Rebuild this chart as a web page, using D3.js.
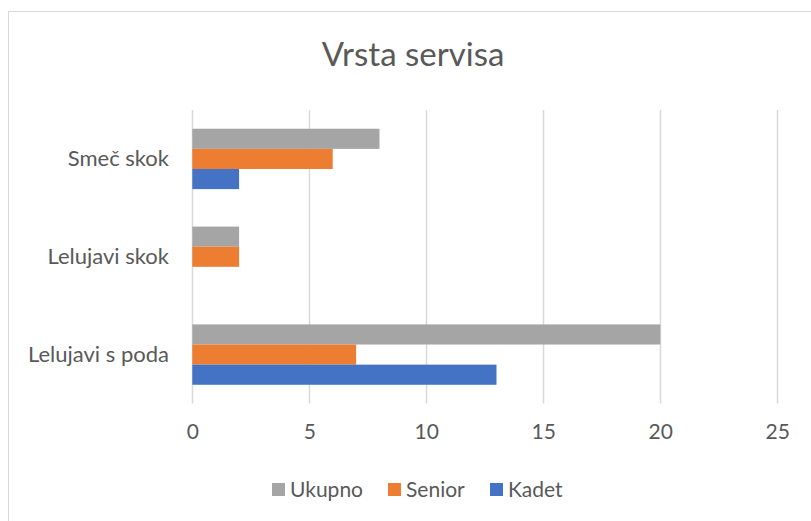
<!DOCTYPE html>
<html>
<head>
<meta charset="utf-8">
<script src="https://cdn.jsdelivr.net/npm/d3@7"></script>
<style>
  body { margin: 0; background: #fff; }
  text { font-family: Lato, "Open Sans", sans-serif; fill: #595959; }
</style>
</head>
<body>
<div id="chart"></div>
<script>
// data
var categories = ["Smeč skok", "Lelujavi skok", "Lelujavi s poda"];
var seriesNames = ["Ukupno", "Senior", "Kadet"];
var ukupno = [8, 2, 20];
var senior = [6, 2, 7];
var kadet = [2, 0, 13];
var ticks = [0, 5, 10, 15, 20, 25];

var colors = { "Ukupno": "#A5A5A5", "Senior": "#ED7D31", "Kadet": "#4472C4" };
var values = { "Ukupno": ukupno, "Senior": senior, "Kadet": kadet };

var width = 811, height = 521;

var svg = d3.select("#chart").append("svg")
    .attr("width", width)
    .attr("height", height);

// chart border
svg.append("rect")
    .attr("x", 8.5).attr("y", 11.5)
    .attr("width", 812).attr("height", 516)
    .attr("fill", "none")
    .attr("stroke", "#D9D9D9");

// title
svg.append("text")
    .attr("x", 413).attr("y", 66)
    .attr("text-anchor", "middle")
    .style("font-size", "33px")
    .text("Vrsta servisa");

// scales
var x = d3.scaleLinear().domain([0, 25]).range([192.3, 777.3]);
var y = d3.scaleBand().domain(categories).range([110, 403.5])
    .paddingInner(0.383).paddingOuter(0.1915);
var ySub = d3.scaleBand().domain(seriesNames).range([0, y.bandwidth()]);

// gridlines
svg.append("g").selectAll("line")
    .data(ticks)
    .join("line")
    .attr("x1", function(d) { return Math.round(x(d)) + 0.5; })
    .attr("x2", function(d) { return Math.round(x(d)) + 0.5; })
    .attr("y1", 110).attr("y2", 403.5)
    .attr("stroke", "#D9D9D9")
    .attr("stroke-width", 1.5);

// bars
var rows = [];
categories.forEach(function(c, i) {
    seriesNames.forEach(function(s) {
        rows.push({ cat: c, series: s, value: values[s][i] });
    });
});

svg.append("g").selectAll("rect")
    .data(rows.filter(function(d) { return d.value > 0; }))
    .join("rect")
    .attr("x", x(0))
    .attr("y", function(d) { return y(d.cat) + ySub(d.series); })
    .attr("width", function(d) { return x(d.value) - x(0); })
    .attr("height", ySub.bandwidth())
    .attr("fill", function(d) { return colors[d.series]; });

// x axis labels
var xAxis = d3.axisBottom(x).tickValues(ticks).tickSize(0).tickPadding(0);
var gx = svg.append("g")
    .attr("transform", "translate(0,424)")
    .call(xAxis);
gx.select(".domain").remove();
gx.selectAll("text")
    .attr("dy", "0.71em")
    .style("font-size", "21px")
    .style("font-family", "Lato, sans-serif")
    .attr("fill", "#595959");

// y axis labels
var yAxis = d3.axisLeft(y).tickSize(0).tickPadding(23);
var gy = svg.append("g")
    .attr("transform", "translate(192,0)")
    .call(yAxis);
gy.select(".domain").remove();
gy.selectAll("text")
    .style("font-size", "22px")
    .style("font-family", "Lato, sans-serif")
    .attr("fill", "#595959");

// legend
var legendX = [272, 388, 490];
var legend = svg.append("g").selectAll("g")
    .data(seriesNames)
    .join("g")
    .attr("transform", function(d, i) { return "translate(" + legendX[i] + ",483)"; });
legend.append("rect")
    .attr("width", 13).attr("height", 13)
    .attr("fill", function(d) { return colors[d]; });
legend.append("text")
    .attr("x", 18).attr("y", 13.5)
    .style("font-size", "21px")
    .text(function(d) { return d; });
</script>
</body>
</html>
